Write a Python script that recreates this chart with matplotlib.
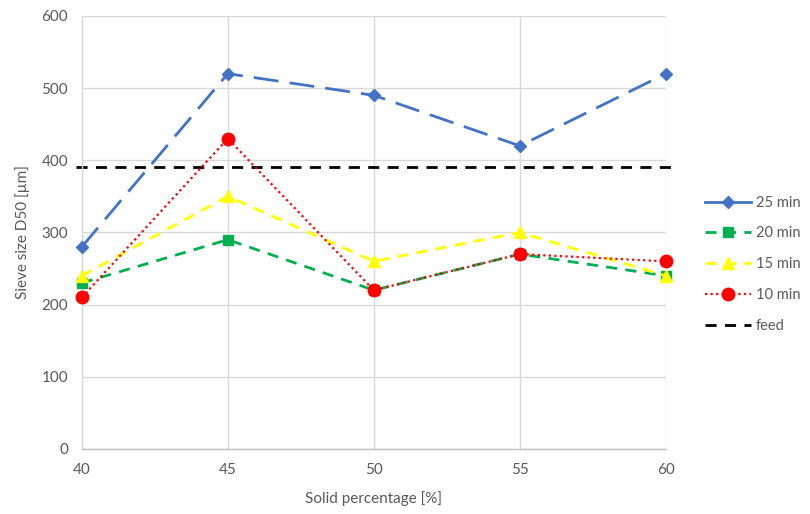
import matplotlib.pyplot as plt
from matplotlib.lines import Line2D

plt.rcParams['font.family'] = ['Lato', 'DejaVu Sans']

# Data
solid_pct = [40, 45, 50, 55, 60]
d50_25min = [280, 520, 490, 420, 520]
d50_20min = [230, 290, 220, 270, 240]
d50_15min = [240, 350, 260, 300, 240]
d50_10min = [210, 430, 220, 270, 260]
feed_x = [39.8, 60.2]
feed_d50 = [390, 390]

fig = plt.figure(figsize=(8.1, 5.14), dpi=100)
ax = fig.add_axes([0.101, 0.1265, 0.721, 0.8425])

gray = '#595959'

ax.plot(feed_x, feed_d50, color='black', lw=2, dashes=(4, 3), zorder=2, clip_on=False)
ax.plot(solid_pct, d50_25min, color='#4472C4', lw=2, dashes=(9, 4),
        marker='D', ms=6, zorder=3, clip_on=False)
ax.plot(solid_pct, d50_20min, color='#00B050', lw=2, dashes=(4, 3),
        marker='s', ms=7, zorder=4, clip_on=False)
ax.plot(solid_pct, d50_15min, color='#FFFF00', lw=2, dashes=(4, 3),
        marker='^', ms=8, zorder=5, clip_on=False)
ax.plot(solid_pct, d50_10min, color='#FF0000', lw=1.6, dashes=(1, 1.5),
        marker='o', ms=9, zorder=6, clip_on=False)

ax.set_xlim(40, 60)
ax.set_ylim(0, 600)
ax.set_xticks(solid_pct)
ax.set_yticks(range(0, 601, 100))
ax.grid(True, color='#d9d9d9', lw=1)
ax.set_axisbelow(True)
for s in ['top', 'right']:
    ax.spines[s].set_visible(False)
for s in ['left', 'bottom']:
    ax.spines[s].set_color('#d9d9d9')
    ax.spines[s].set_linewidth(1)
ax.spines['bottom'].set_color('#bfbfbf')
ax.tick_params(length=0, colors=gray, labelsize=11, pad=10)
ax.set_xlabel('Solid percentage [%]', color=gray, fontsize=11, labelpad=10)
ax.set_ylabel('Sieve size D50 [µm]', color=gray, fontsize=11, labelpad=8)

handles = [
    Line2D([], [], color='#4472C4', lw=2, marker='D', ms=6),
    Line2D([], [], color='#00B050', lw=2, dashes=(4, 3), marker='s', ms=7),
    Line2D([], [], color='#FFFF00', lw=2, dashes=(4, 3), marker='^', ms=8),
    Line2D([], [], color='#FF0000', lw=1.6, dashes=(1, 1.5), marker='o', ms=9),
    Line2D([], [], color='black', lw=2, dashes=(4, 3)),
]
labels = ['25 min', '20 min', '15 min', '10 min', 'feed']
leg = fig.legend(handles, labels, loc='center left', bbox_to_anchor=(0.870, 0.486),
                 frameon=False, fontsize=10.5, labelcolor=gray, handlelength=3.2,
                 handletextpad=0.3, labelspacing=1.15, borderpad=0, borderaxespad=0)

fig.savefig('out.png', dpi=100)
